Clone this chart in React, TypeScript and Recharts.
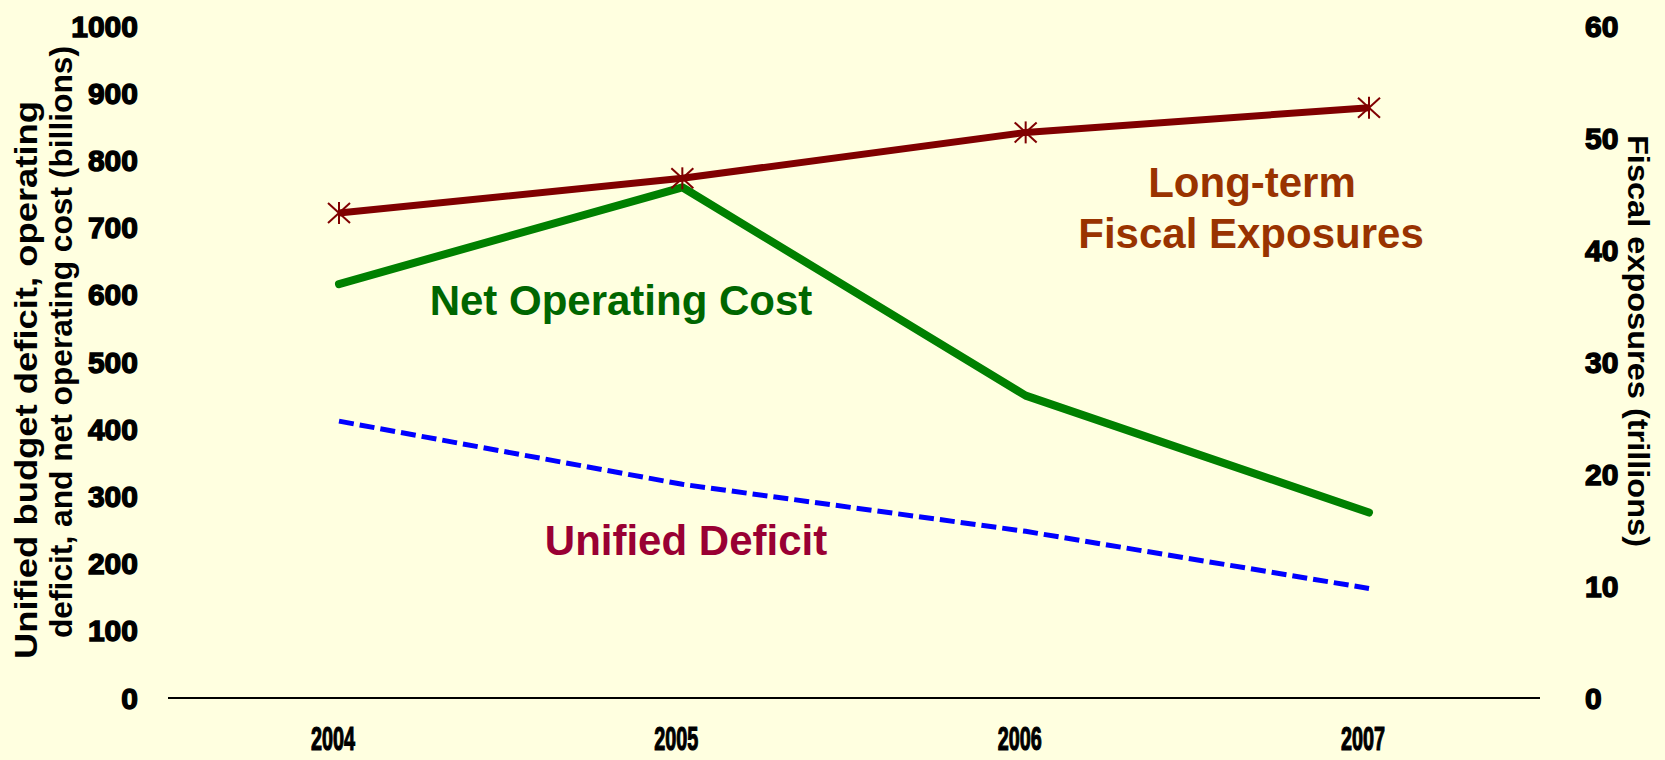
import { LineChart, Line, XAxis, YAxis } from 'recharts'

const years = ['2004', '2005', '2006', '2007']
const netOperatingCost = [616, 760, 450, 276]
const unifiedDeficit = [412, 318, 248, 163]
const fiscalExposures = [43.3, 46.4, 50.5, 52.7]

const leftTicks = [0, 100, 200, 300, 400, 500, 600, 700, 800, 900, 1000]
const rightTicks = [0, 10, 20, 30, 40, 50, 60]

const data = years.map((year, i) => ({
  year,
  net: netOperatingCost[i],
  unified: unifiedDeficit[i],
  exposures: fiscalExposures[i],
}))

const FONT = '"Liberation Sans", Arial, sans-serif'
const BG = '#FFFFE0'

function LeftTick(props: any) {
  const { x, y, payload } = props
  return (
    <text x={x} y={y} dy={10.5} textAnchor="end" fontFamily={FONT} fontWeight="bold" fontSize={30}
      fill="#000" stroke="#000" strokeWidth={1.4}>
      {payload.value}
    </text>
  )
}

function RightTick(props: any) {
  const { x, y, payload } = props
  return (
    <text x={x} y={y} dy={10.5} textAnchor="start" fontFamily={FONT} fontWeight="bold" fontSize={30}
      fill="#000" stroke="#000" strokeWidth={1.4}>
      {payload.value}
    </text>
  )
}

function YearTick(props: any) {
  const { x, y, payload } = props
  return (
    <g transform={`translate(${x - 6},${y + 52}) scale(0.6,1)`}>
      <text x={0} y={0} textAnchor="middle" fontFamily={FONT} fontWeight="bold" fontSize={33}
        fill="#000" stroke="#000" strokeWidth={1.2}>
        {payload.value}
      </text>
    </g>
  )
}

function renderStar(props: any) {
  const { cx, cy, index } = props
  return (
    <g key={`star-${index}`} stroke="#800000" strokeWidth={2}>
      <line x1={cx} y1={cy - 11} x2={cx} y2={cy + 11} />
      <line x1={cx - 11} y1={cy - 10} x2={cx + 11} y2={cy + 10} />
      <line x1={cx - 11} y1={cy + 10} x2={cx + 11} y2={cy - 10} />
    </g>
  )
}

export default function App() {
  return (
    <div style={{ position: 'absolute', left: 0, top: 0, width: 1665, height: 760, background: BG }}>
      <LineChart width={1665} height={760} data={data} margin={{ top: 26, right: 0, bottom: 0, left: 0 }}>
        <XAxis dataKey="year" height={62} padding={{ left: 171, right: 171 }}
          axisLine={{ stroke: '#000', strokeWidth: 2 }} tickLine={false} tickSize={0} tickMargin={0}
          tick={<YearTick />} interval={0} />
        <YAxis yAxisId="left" width={168} domain={[0, 1000]} ticks={leftTicks} interval={0}
          axisLine={false} tickLine={false} tickSize={0} tickMargin={30} tick={<LeftTick />} />
        <YAxis yAxisId="right" orientation="right" width={125} domain={[0, 60]} ticks={rightTicks} interval={0}
          axisLine={false} tickLine={false} tickSize={0} tickMargin={45} tick={<RightTick />} />
        <Line yAxisId="left" type="linear" dataKey="unified" stroke="#0000FF" strokeWidth={5}
          strokeDasharray="15 6" dot={false} isAnimationActive={false} />
        <Line yAxisId="left" type="linear" dataKey="net" stroke="#008000" strokeWidth={8}
          strokeLinecap="round" strokeLinejoin="round" dot={false} isAnimationActive={false} />
        <Line yAxisId="right" type="linear" dataKey="exposures" stroke="#800000" strokeWidth={7}
          dot={renderStar} isAnimationActive={false} />
      </LineChart>
      <svg width={1665} height={760} style={{ position: 'absolute', left: 0, top: 0, pointerEvents: 'none' }}>
        <g fontFamily={FONT} fontWeight="bold" fontSize={31} fill="#000">
          <text transform="translate(37,380) rotate(-90)" textAnchor="middle" textLength={558}
            lengthAdjust="spacingAndGlyphs">Unified budget deficit, operating</text>
          <text transform="translate(72,342) rotate(-90)" textAnchor="middle" textLength={592}
            lengthAdjust="spacingAndGlyphs">deficit, and net operating cost (billions)</text>
        </g>
        <text transform="translate(1628,341) rotate(90)" textAnchor="middle" fontFamily={FONT}
          fontWeight="bold" fontSize={30} fill="#000" textLength={412}
          lengthAdjust="spacingAndGlyphs">Fiscal exposures (trillions)</text>
        <g fontFamily={FONT} fontWeight="bold" fontSize={42} textAnchor="middle">
          <text x={621} y={315} fill="#006600">Net Operating Cost</text>
          <text x={686} y={555} fill="#990033">Unified Deficit</text>
          <text x={1252} y={197} fill="#993300">Long-term</text>
          <text x={1251} y={248} fill="#993300">Fiscal Exposures</text>
        </g>
      </svg>
    </div>
  )
}
